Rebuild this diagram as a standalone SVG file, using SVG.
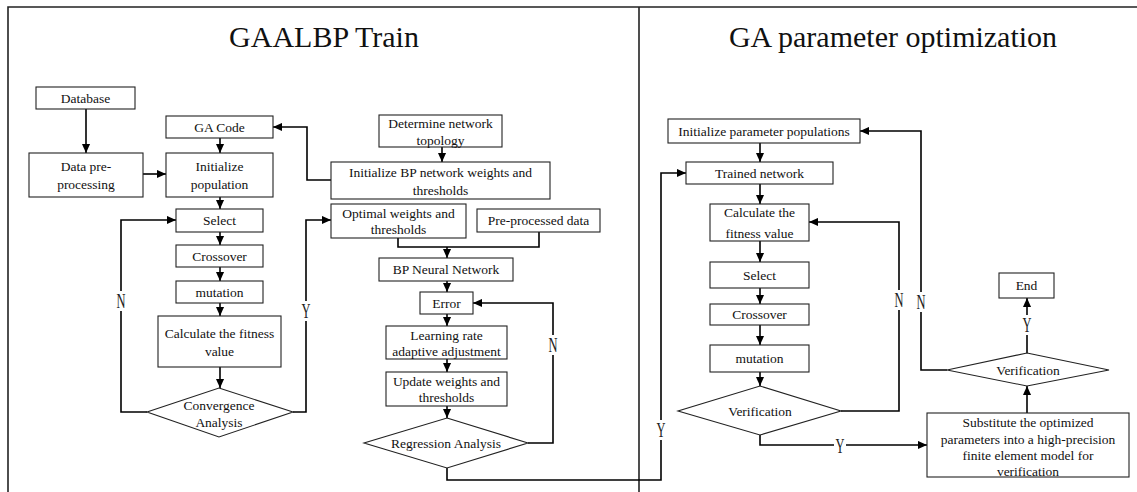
<svg xmlns="http://www.w3.org/2000/svg" width="1137" height="492" viewBox="0 0 1137 492">
<style>
.b{fill:#fff;stroke:#222;stroke-width:1.1}
.t{font-family:"Liberation Serif","Times New Roman",serif;font-size:13.5px;fill:#111;text-anchor:middle;dominant-baseline:central}
.h{font-family:"Liberation Serif","Times New Roman",serif;font-size:30px;fill:#111;text-anchor:middle}
.c{fill:none;stroke:#000;stroke-width:1.6}
.l{font-family:"Liberation Serif","Times New Roman",serif;font-size:20px;fill:#222;text-anchor:middle;dominant-baseline:central}
.g{fill:#fff;stroke:none}
.f{fill:none;stroke:#222;stroke-width:1.6}
</style>
<defs>
<marker id="ah" viewBox="0 0 10 10" refX="10" refY="5" markerWidth="9" markerHeight="9" markerUnits="userSpaceOnUse" orient="auto"><path d="M0,0.5 L10,5 L0,9.5 z" fill="#000"/></marker>
</defs>
<rect x="0" y="0" width="1137" height="492" fill="#fff"/>
<g id="frame">
<path class="f" d="M8,492 V7 H1137"/>
<path class="f" d="M639,7 V492"/>
<text class="h" x="324" y="47">GAALBP Train</text>
<text class="h" x="893" y="47">GA parameter optimization</text>
</g>
<g id="connectors">
<path class="c" d="M86,109 V153" marker-end="url(#ah)"/>
<path class="c" d="M143,174 H166" marker-end="url(#ah)"/>
<path class="c" d="M220,138 V153" marker-end="url(#ah)"/>
<path class="c" d="M220,197 V209" marker-end="url(#ah)"/>
<path class="c" d="M220,232 V245" marker-end="url(#ah)"/>
<path class="c" d="M220,267 V281" marker-end="url(#ah)"/>
<path class="c" d="M220,303 V316" marker-end="url(#ah)"/>
<path class="c" d="M220,367 V388" marker-end="url(#ah)"/>
<path class="c" d="M147,412 H121 V220 H176" marker-end="url(#ah)"/>
<path class="c" d="M293,412 H306 V220 H331" marker-end="url(#ah)"/>
<path class="c" d="M331,180 H307 V127 H273" marker-end="url(#ah)"/>
<path class="c" d="M442,147 V162" marker-end="url(#ah)"/>
<path class="c" d="M398,238 V247 H539 V232"/>
<path class="c" d="M447,247 V258" marker-end="url(#ah)"/>
<path class="c" d="M447,281 V292" marker-end="url(#ah)"/>
<path class="c" d="M447,314 V326" marker-end="url(#ah)"/>
<path class="c" d="M447,359 V372" marker-end="url(#ah)"/>
<path class="c" d="M447,406 V418" marker-end="url(#ah)"/>
<path class="c" d="M528,443 H553 V303 H473" marker-end="url(#ah)"/>
<path class="c" d="M447,468 V480 H661 V173 H686" marker-end="url(#ah)"/>
<path class="c" d="M760,143 V162" marker-end="url(#ah)"/>
<path class="c" d="M760,184 V204" marker-end="url(#ah)"/>
<path class="c" d="M760,241 V262" marker-end="url(#ah)"/>
<path class="c" d="M760,288 V304" marker-end="url(#ah)"/>
<path class="c" d="M760,325 V345" marker-end="url(#ah)"/>
<path class="c" d="M760,372 V386" marker-end="url(#ah)"/>
<path class="c" d="M841,411 H899 V222 H809" marker-end="url(#ah)"/>
<path class="c" d="M760,435 V445 H927" marker-end="url(#ah)"/>
<path class="c" d="M1027,413 V386" marker-end="url(#ah)"/>
<path class="c" d="M947,370 H921 V131 H860" marker-end="url(#ah)"/>
<path class="c" d="M1027,353 V298" marker-end="url(#ah)"/>
<rect class="g" x="115" y="291" width="12" height="20"/>
<text class="l" x="121" y="301" textLength="9" lengthAdjust="spacingAndGlyphs">N</text>
<rect class="g" x="300" y="301" width="12" height="20"/>
<text class="l" x="306" y="311" textLength="9" lengthAdjust="spacingAndGlyphs">Y</text>
<rect class="g" x="547" y="335" width="12" height="20"/>
<text class="l" x="553" y="345" textLength="9" lengthAdjust="spacingAndGlyphs">N</text>
<rect class="g" x="655" y="420" width="12" height="20"/>
<text class="l" x="661" y="430" textLength="9" lengthAdjust="spacingAndGlyphs">Y</text>
<rect class="g" x="893" y="290" width="12" height="20"/>
<text class="l" x="899" y="300" textLength="9" lengthAdjust="spacingAndGlyphs">N</text>
<rect class="g" x="915" y="292" width="12" height="20"/>
<text class="l" x="921" y="302" textLength="9" lengthAdjust="spacingAndGlyphs">N</text>
<rect class="g" x="834" y="436" width="12" height="18"/>
<text class="l" x="840" y="446" textLength="9" lengthAdjust="spacingAndGlyphs">Y</text>
<rect class="g" x="1021" y="315" width="12" height="20"/>
<text class="l" x="1027" y="325" textLength="9" lengthAdjust="spacingAndGlyphs">Y</text>
</g>
<g id="database"><rect class="b" x="36" y="87" width="99" height="22"/><text class="t" x="85.5" y="98">Database</text></g>
<g id="ga-code"><rect class="b" x="166" y="116" width="107" height="22"/><text class="t" x="219.5" y="127">GA Code</text></g>
<g id="data-preprocessing"><rect class="b" x="29" y="153" width="114" height="44"/><text class="t" x="86" y="166">Data pre-</text><text class="t" x="86" y="184">processing</text></g>
<g id="init-population"><rect class="b" x="166" y="153" width="107" height="44"/><text class="t" x="219.5" y="166">Initialize</text><text class="t" x="219.5" y="184">population</text></g>
<g id="select-l"><rect class="b" x="176" y="209" width="87" height="23"/><text class="t" x="219.5" y="220.5">Select</text></g>
<g id="crossover-l"><rect class="b" x="176" y="245" width="87" height="22"/><text class="t" x="219.5" y="256">Crossover</text></g>
<g id="mutation-l"><rect class="b" x="176" y="281" width="87" height="22"/><text class="t" x="219.5" y="292">mutation</text></g>
<g id="fitness-l"><rect class="b" x="158" y="316" width="123" height="51"/><text class="t" x="219.5" y="333">Calculate the fitness</text><text class="t" x="219.5" y="351">value</text></g>
<g id="convergence"><path class="b" d="M219,388 L293,412 L219,437 L147,412 Z"/><text class="t" x="219" y="405">Convergence</text><text class="t" x="219" y="422">Analysis</text></g>
<g id="topology"><rect class="b" x="379" y="115" width="123" height="32"/><text class="t" x="440.5" y="123">Determine network</text><text class="t" x="440.5" y="140">topology</text></g>
<g id="init-bp"><rect class="b" x="331" y="162" width="219" height="37"/><text class="t" x="440.5" y="172">Initialize BP network weights and</text><text class="t" x="440.5" y="190">thresholds</text></g>
<g id="optimal"><rect class="b" x="331" y="204" width="135" height="34"/><text class="t" x="398.5" y="213">Optimal weights and</text><text class="t" x="398.5" y="229">thresholds</text></g>
<g id="preprocessed"><rect class="b" x="477" y="209" width="123" height="23"/><text class="t" x="538.5" y="220.5">Pre-processed data</text></g>
<g id="bp-nn"><rect class="b" x="379" y="258" width="134" height="23"/><text class="t" x="446" y="269.5">BP Neural Network</text></g>
<g id="error"><rect class="b" x="420" y="292" width="53" height="22"/><text class="t" x="446.5" y="303">Error</text></g>
<g id="learning-rate"><rect class="b" x="386" y="326" width="121" height="33"/><text class="t" x="446.5" y="335">Learning rate</text><text class="t" x="446.5" y="351">adaptive adjustment</text></g>
<g id="update"><rect class="b" x="386" y="372" width="121" height="34"/><text class="t" x="446.5" y="381">Update weights and</text><text class="t" x="446.5" y="397">thresholds</text></g>
<g id="regression"><path class="b" d="M447,418 L528,443 L447,468 L364,443 Z"/><text class="t" x="446" y="443">Regression Analysis</text></g>
<g id="init-param"><rect class="b" x="668" y="119" width="192" height="24"/><text class="t" x="764" y="131">Initialize parameter populations</text></g>
<g id="trained"><rect class="b" x="686" y="162" width="147" height="22"/><text class="t" x="759.5" y="173">Trained network</text></g>
<g id="fitness-r"><rect class="b" x="710" y="204" width="99" height="37"/><text class="t" x="759.5" y="212">Calculate the</text><text class="t" x="759.5" y="233">fitness value</text></g>
<g id="select-r"><rect class="b" x="710" y="262" width="99" height="26"/><text class="t" x="759.5" y="275">Select</text></g>
<g id="crossover-r"><rect class="b" x="710" y="304" width="99" height="21"/><text class="t" x="759.5" y="314.5">Crossover</text></g>
<g id="mutation-r"><rect class="b" x="710" y="345" width="99" height="27"/><text class="t" x="759.5" y="358.5">mutation</text></g>
<g id="verification-1"><path class="b" d="M760,386 L841,411 L760,435 L678,411 Z"/><text class="t" x="760" y="411">Verification</text></g>
<g id="substitute"><rect class="b" x="927" y="413" width="202" height="64"/><text class="t" x="1028" y="422">Substitute the optimized</text><text class="t" x="1028" y="439">parameters into a high-precision</text><text class="t" x="1028" y="455">finite element model for</text><text class="t" x="1028" y="471">verification</text></g>
<g id="verification-2"><path class="b" d="M1027,353 L1109,370 L1027,386 L947,370 Z"/><text class="t" x="1028" y="370">Verification</text></g>
<g id="end"><rect class="b" x="999" y="273" width="55" height="25"/><text class="t" x="1026.5" y="285.5">End</text></g>
</svg>
